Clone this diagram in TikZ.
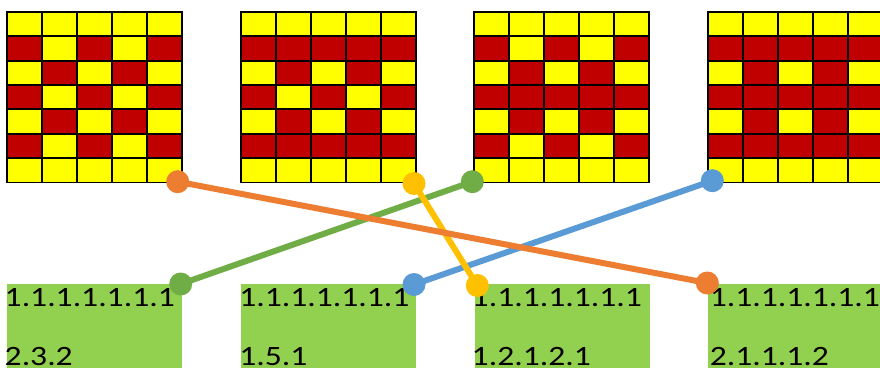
\documentclass[tikz,border=0pt]{standalone}
\usepackage{fontspec}
\setmainfont{Carlito}
\definecolor{cellY}{HTML}{FFFF00}
\definecolor{cellR}{HTML}{C00000}
\definecolor{boxG}{HTML}{92D050}
\definecolor{cOrange}{HTML}{ED7D31}
\definecolor{cGold}{HTML}{FFC000}
\definecolor{cGreen}{HTML}{70AD47}
\definecolor{cBlue}{HTML}{5B9BD5}
\newcommand\mkgrid[3]{%
  \fill[cellY] (#2,12) rectangle ++(175,170.5);
  \foreach \c/\r in {#3} \fill[cellR] (#2+\c*35,12+\r*24.357) rectangle ++(35,24.357);
  \foreach \i in {0,...,5} \draw[gridline] (#2+\i*35,12) -- ++(0,170.5);
  \foreach \j in {0,...,7} \draw[gridline] (#2,12+\j*24.357) -- ++(175,0);
  \node[inner sep=0pt,minimum width=175pt,minimum height=170.5pt,anchor=north west] (#1) at (#2,12) {};
}
\begin{document}
\begin{tikzpicture}[x=1pt,y=-1pt,
  gridline/.style={line width=1.9pt,black,line cap=rect},
  greenbox/.style={fill=boxG,draw=none,anchor=north west,minimum width=175pt,minimum height=100pt,inner sep=0pt},
  numtext/.style={font=\fontsize{28}{32}\selectfont,xscale=1.2,anchor=base west,inner sep=0pt,text=black},
  connector/.style={line width=6pt},
  enddot/.style={circle,fill,inner sep=0pt,minimum size=23pt}]
\useasboundingbox (0,0) rectangle (880,367);
\clip (0,0) rectangle (880,367);
% grids
\mkgrid{g1}{7}{0/1,2/1,4/1,1/2,3/2,0/3,2/3,4/3,1/4,3/4,0/5,2/5,4/5}
\mkgrid{g2}{240.7}{0/1,1/1,2/1,3/1,4/1,1/2,3/2,0/3,2/3,4/3,1/4,3/4,0/5,1/5,2/5,3/5,4/5}
\mkgrid{g3}{474.3}{0/1,2/1,4/1,1/2,3/2,0/3,1/3,2/3,3/3,4/3,1/4,3/4,0/5,2/5,4/5}
\mkgrid{g4}{707.7}{0/1,1/1,2/1,3/1,4/1,1/2,3/2,0/3,1/3,2/3,3/3,4/3,1/4,3/4,0/5,1/5,2/5,3/5,4/5}
% green boxes
\node[greenbox] (box1) at (7,284) {};
\node[greenbox] (box2) at (240.3,283.5) {};
\node[greenbox] (box3) at (474.3,284) {};
\node[greenbox] (box4) at (707.7,283.5) {};
% texts
\node[numtext] (t1a) at (4.5,306) {1.1.1.1.1.1.1};
\node[numtext] (t1b) at (4.5,365.5) {2.3.2};
\node[numtext] (t2a) at (239.2,306) {1.1.1.1.1.1.1};
\node[numtext] (t2b) at (239.2,365.5) {1.5.1};
\node[numtext] (t3a) at (471.5,306) {1.1.1.1.1.1.1};
\node[numtext] (t3b) at (471.5,365.5) {1.2.1.2.1};
\node[numtext] (t4a) at (709.5,306) {1.1.1.1.1.1.1};
\node[numtext] (t4b) at (709.5,365.5) {2.1.1.1.2};
% connector end points
\coordinate (o1) at (177.7,181.7);
\coordinate (o2) at (707.3,283);
\coordinate (y1) at (414,183.5);
\coordinate (y2) at (477.3,285.5);
\coordinate (gr1) at (472.3,181.7);
\coordinate (gr2) at (180.7,284);
\coordinate (b1) at (712.3,180.7);
\coordinate (b2) at (414,284.5);
% connectors
\draw[connector,cGreen] (gr1) -- (gr2);
\node[enddot,fill=cGreen] (gd1) at (gr1) {};
\node[enddot,fill=cGreen] (gd2) at (gr2) {};
\draw[connector,cBlue] (b1) -- (b2);
\node[enddot,fill=cBlue] (bd1) at (b1) {};
\node[enddot,fill=cBlue] (bd2) at (b2) {};
\draw[connector,cGold] (y1) -- (y2);
\node[enddot,fill=cGold] (yd1) at (y1) {};
\node[enddot,fill=cGold] (yd2) at (y2) {};
\draw[connector,cOrange] (o1) -- (o2);
\node[enddot,fill=cOrange] (od1) at (o1) {};
\node[enddot,fill=cOrange] (od2) at (o2) {};
\end{tikzpicture}
\end{document}
